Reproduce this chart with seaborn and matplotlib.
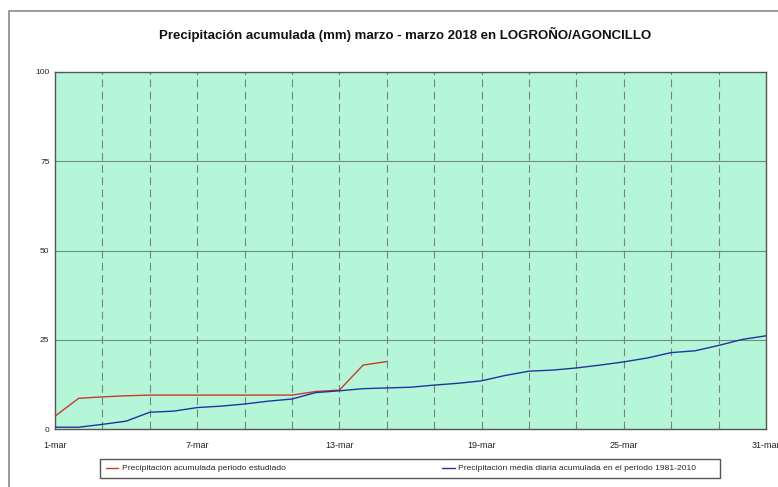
import pandas as pd
import matplotlib.pyplot as plt
import seaborn as sns
from matplotlib.patches import Rectangle

# Datos (precipitacion acumulada, mm)
dias_obs = list(range(1, 16))
precip_obs = [3.6, 8.6, 9.0, 9.3, 9.5, 9.5, 9.5, 9.5, 9.5, 9.5, 9.5, 10.5, 10.9, 17.9, 18.9]

dias_med = list(range(1, 32))
precip_med = [0.5, 0.5, 1.3, 2.2, 4.7, 5.0, 6.0, 6.4, 7.0, 7.8, 8.4, 10.2, 10.7, 11.3, 11.5,
              11.7, 12.3, 12.8, 13.5, 15.0, 16.2, 16.5, 17.1, 17.9, 18.8, 19.9, 21.4, 21.9,
              23.4, 25.1, 26.1]

tick_dias = [1, 7, 13, 19, 25, 31]
tick_labels = ['1-mar', '7-mar', '13-mar', '19-mar', '25-mar', '31-mar']
y_ticks = [0, 25, 50, 75, 100]

serie_obs = 'Precipitación acumulada periodo estudiado'
serie_med = 'Precipitación media diaria acumulada en el periodo 1981-2010'

df = pd.concat([
    pd.DataFrame({'dia': dias_obs, 'mm': precip_obs, 'serie': serie_obs}),
    pd.DataFrame({'dia': dias_med, 'mm': precip_med, 'serie': serie_med}),
])

sns.set_style('white')
plt.rcParams['font.family'] = ['Liberation Sans', 'DejaVu Sans']

fig = plt.figure(figsize=(7.78, 4.87), dpi=100)
ax = fig.add_axes([55 / 778, 1 - 429 / 487, 711 / 778, 357 / 487])
ax.set_facecolor('#b5f6d8')

# marco exterior
fig.patches.append(Rectangle((9 / 778, -0.1), 1.2, 1 - 11 / 487 + 0.1, transform=fig.transFigure,
                             fill=False, edgecolor='#8a8a8a', linewidth=1.2))
# caja de la leyenda
fig.patches.append(Rectangle((100 / 778, 1 - 478 / 487), 620 / 778, 19 / 487, transform=fig.transFigure,
                             fill=False, edgecolor='#555555', linewidth=1.0))

# rejilla
for d in range(3, 31, 2):
    ax.axvline(d, color='#74877a', linestyle=(0, (7, 4)), linewidth=0.8, zorder=1)
for v in [25, 50, 75]:
    ax.axhline(v, color='#6f8f7c', linewidth=0.8, zorder=1)

sns.lineplot(data=df, x='dia', y='mm', hue='serie', ax=ax,
             palette={serie_obs: '#c83a30', serie_med: '#2233a0'},
             linewidth=1.0, legend=False, zorder=3)

ax.set_xlim(1, 31)
ax.set_ylim(0, 100)
ax.set_xticks(tick_dias)
ax.set_xticklabels(tick_labels, fontsize=6.5, color='#222222')
ax.set_yticks(y_ticks)
ax.set_yticklabels([str(v) for v in y_ticks], fontsize=6, color='#222222')
ax.tick_params(axis='x', length=0, pad=9)
ax.tick_params(axis='y', length=3, width=0.8, pad=1, color='#444444')
ax.set_xlabel('')
ax.set_ylabel('')
for s in ax.spines.values():
    s.set_color('#555555')
    s.set_linewidth(1.0)

fig.text(405 / 778, 1 - 34 / 487, 'Precipitación acumulada (mm) marzo - marzo 2018 en LOGROÑO/AGONCILLO',
         ha='center', va='center', fontsize=9.5, fontweight='bold', color='#111111')

handles = [plt.Line2D([], [], color='#c83a30', linewidth=1.0),
           plt.Line2D([], [], color='#2233a0', linewidth=1.0)]
leg = fig.legend(handles, [serie_obs, serie_med], ncol=2, loc='center left',
                 bbox_to_anchor=(104 / 778, 1 - 468.5 / 487), fontsize=6.1,
                 frameon=False, handlelength=1.5, handletextpad=0.4,
                 columnspacing=18.5, borderpad=0.2, borderaxespad=0)

fig.savefig('out.png', dpi=100)
